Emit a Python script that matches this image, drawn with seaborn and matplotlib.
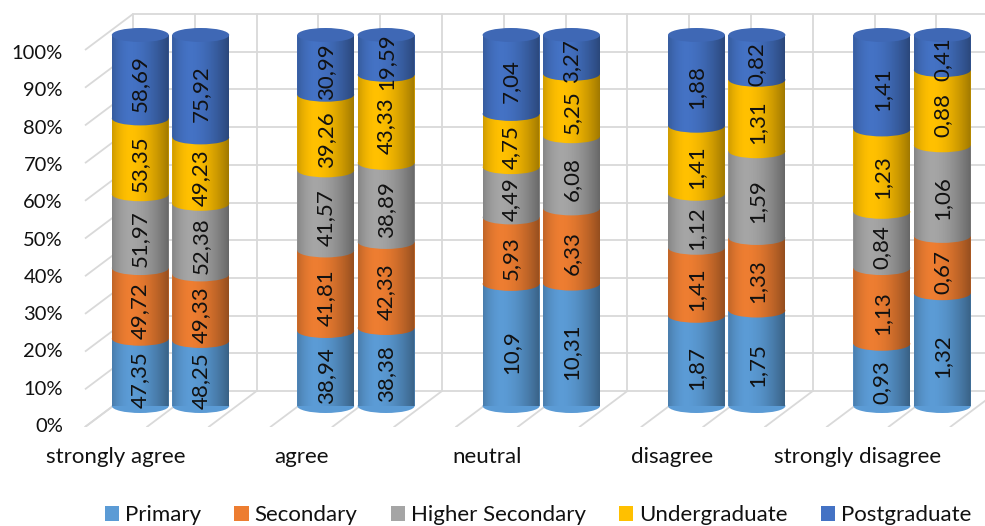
import numpy as np
import pandas as pd
import matplotlib
matplotlib.use("Agg")
import matplotlib.pyplot as plt
import seaborn as sns
from matplotlib.patches import Ellipse, Patch, Polygon

# ---------------- data ----------------
categories = ["strongly agree", "agree", "neutral", "disagree", "strongly disagree"]
series_names = ["Primary", "Secondary", "Higher Secondary", "Undergraduate", "Postgraduate"]
# two bars per category (in category order)
primary          = [47.35, 48.25, 38.94, 38.38, 10.9, 10.31, 1.87, 1.75, 0.93, 1.32]
secondary        = [49.72, 49.33, 41.81, 42.33, 5.93, 6.33, 1.41, 1.33, 1.13, 0.67]
higher_secondary = [51.97, 52.38, 41.57, 38.89, 4.49, 6.08, 1.12, 1.59, 0.84, 1.06]
undergraduate    = [53.35, 49.23, 39.26, 43.33, 4.75, 5.25, 1.41, 1.31, 1.23, 0.88]
postgraduate     = [58.69, 75.92, 30.99, 19.59, 7.04, 3.27, 1.88, 0.82, 1.41, 0.41]
pct_ticks = [0, 10, 20, 30, 40, 50, 60, 70, 80, 90, 100]

# ---------------- style ----------------
colors = ["#5B9BD5", "#ED7D31", "#A5A5A5", "#FFC000", "#4472C4"]
top_cap = "#3F68B5"
grid_col = "#D9D9D9"
text_col = "#111111"

sns.set_style("white")
plt.rcParams["font.family"] = ["Lato", "DejaVu Sans"]
FS = 16
FS_Y = 14.5

W, H = 985, 526
fig = plt.figure(figsize=(W / 100, H / 100), dpi=100)

# ---- background "3D walls" axes in pixel coordinates ----
bg_l, bg_r, bg_t, bg_b = 68, 985, 0, 427
bg = fig.add_axes([bg_l / W, 1 - bg_b / H, (bg_r - bg_l) / W, (bg_b - bg_t) / H])
bg.set_xlim(bg_l, bg_r)
bg.set_ylim(bg_b, bg_t)
for s in bg.spines.values():
    s.set_visible(False)
lw = 1.3
for j in range(len(pct_ticks)):
    yb = 391 - 37.7 * j
    bg.plot([85, 133], [yb + 36, yb], color=grid_col, lw=lw, solid_capstyle="butt")
    bg.plot([133, 985], [yb, yb], color=grid_col, lw=lw)
for k in range(15):
    xb = 133 + 61.8 * k
    if xb <= 985:
        bg.plot([xb, xb], [14, 391], color=grid_col, lw=lw)
    bg.plot([xb - 48, xb], [427, 391], color=grid_col, lw=lw)

cat0_px, cat_step = 170.5, 185.4
bg.set_yticks([425 - 37.3 * j for j in range(len(pct_ticks))])
bg.set_yticklabels([f"{p}%" for p in pct_ticks])
bg.set_xticks([cat0_px - 54.5 + cat_step * i for i in range(len(categories))])
bg.set_xticklabels(categories)
bg.tick_params(axis="y", length=0, pad=3.6, labelsize=FS_Y, labelcolor=text_col)
bg.tick_params(axis="x", length=0, pad=14.5, labelsize=FS, labelcolor=text_col)

# ---- main bar axes ----
y0_px, y100_px = 406, 35
L_px = cat0_px - 0.5 * cat_step
ax = fig.add_axes([L_px / W, 1 - y0_px / H, (W - L_px) / W, (y0_px - y100_px) / H])
ax.set_facecolor("none")
ax.set_zorder(bg.get_zorder() + 1)

series = [primary, secondary, higher_secondary, undergraduate, postgraduate]
vals = np.array(series, dtype=float)            # (5 series, 10 bars)
totals = vals.sum(axis=0)
cum = np.cumsum(vals, axis=0) / totals * 100     # cumulative percentages

off = 0.163
positions = []
for i in range(len(categories)):
    positions += [i - off, i + off]
positions = np.array(positions)

bar_w = 0.307
native = off * 2
for k in range(len(series) - 1, -1, -1):
    df = pd.DataFrame({"pos": positions, "cum": cum[k]})
    sns.barplot(data=df, x="pos", y="cum", native_scale=True, orient="x",
                width=bar_w / native, color=colors[k], saturation=1,
                errorbar=None, linewidth=0, ax=ax, zorder=2)

ax.set_xlim(-0.5, -0.5 + (W - L_px) / cat_step)
ax.set_ylim(0, 100)
ax.axis("off")

# geometry from the drawn top-layer bars
top_bars = ax.patches[:len(positions)]
eh = 7 / (y0_px - y100_px) * 100   # half ellipse height in data units

t = np.linspace(0, 1, 256)
alpha = np.where(t < 0.33, 0.2 * ((0.33 - t) / 0.33) ** 2, 0.38 * ((t - 0.33) / 0.67) ** 1.7)
grad = np.zeros((1, 256, 4))
grad[..., 3] = alpha

theta = np.linspace(np.pi, 2 * np.pi, 60)
for b_i, bar in enumerate(top_bars):
    x0, w = bar.get_x(), bar.get_width()
    xc = x0 + w / 2
    # bottom curved edge
    ax.add_patch(Ellipse((xc, 0), w, 2 * eh, color=colors[0], lw=0, zorder=2.5, clip_on=False))
    # curved boundaries between segments
    for k in range(len(series) - 1):
        ax.add_patch(Ellipse((xc, cum[k][b_i]), w, 2 * eh, color=colors[k + 1], lw=0,
                             zorder=2.5, clip_on=False))
    # cylinder shading
    shape = np.column_stack([xc + w / 2 * np.cos(theta), eh * np.sin(theta)])
    shape = np.vstack([shape, [[x0 + w, 100], [x0, 100]]])
    clip = Polygon(shape, closed=True, transform=ax.transData, facecolor="none", edgecolor="none")
    ax.add_patch(clip)
    im = ax.imshow(grad, extent=[x0, x0 + w, -eh, 100], aspect="auto", zorder=3,
                   interpolation="bilinear")
    im.set_clip_path(clip)
    im.set_clip_on(True)
    # top cap
    ax.add_patch(Ellipse((xc, 100), w, 2 * eh, color=top_cap, lw=0, zorder=3.5, clip_on=False))
    # value labels
    prev = 0
    for k in range(len(series)):
        mid = (prev + cum[k][b_i]) / 2 - eh
        lab = f"{series[k][b_i]:g}".replace(".", ",")
        ax.text(xc, mid, lab, rotation=90, ha="center", va="center", rotation_mode="anchor",
                fontsize=FS, color=text_col, zorder=5, clip_on=False)
        prev = cum[k][b_i]

ax.set_xlim(-0.5, -0.5 + (W - L_px) / cat_step)
ax.set_ylim(0, 100)

handles = [Patch(facecolor=c, edgecolor="none") for c in colors]
fig.legend(handles, series_names, loc="center", bbox_to_anchor=(538 / W, 1 - 515 / H),
           ncol=5, frameon=False, fontsize=FS, handlelength=0.65, handleheight=0.65,
           handletextpad=0.25, columnspacing=1.5, labelcolor=text_col)

fig.savefig("out.png", dpi=100)
